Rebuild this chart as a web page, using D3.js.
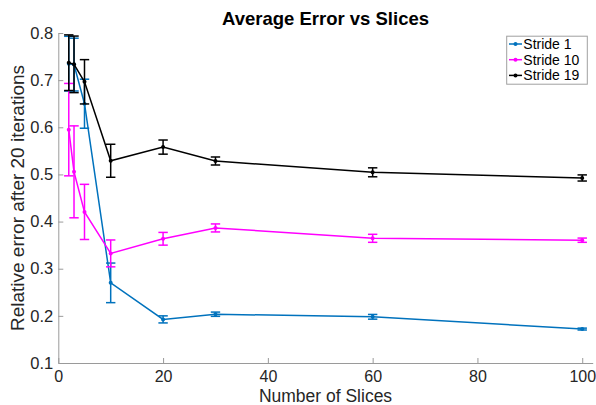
<!DOCTYPE html>
<html>
<head>
<meta charset="utf-8">
<script src="https://cdn.jsdelivr.net/npm/d3@7"></script>
<style>
html,body{margin:0;padding:0;background:#fff;}
svg{display:block;font-family:"Liberation Sans",Arial,Helvetica,sans-serif;}
</style>
</head>
<body>
<svg id="chart" width="596" height="405"></svg>
<script>
const slices = [2, 3, 5, 10, 20, 30, 60, 100];
const seriesNames = ["Stride 1", "Stride 10", "Stride 19"];
const seriesColors = ["#0072BD", "#FF00FF", "#000000"];
const stride1Mean = [0.735, 0.733, 0.650, 0.270, 0.1925, 0.2035, 0.198, 0.172];
const stride1Err  = [0.058, 0.056, 0.052, 0.042, 0.0075, 0.0045, 0.005, 0.002];
const stride10Mean = [0.595, 0.5055, 0.4205, 0.3325, 0.3635, 0.3865, 0.3645, 0.3605];
const stride10Err  = [0.098, 0.0975, 0.0585, 0.0285, 0.0135, 0.0085, 0.0085, 0.0045];
const stride19Mean = [0.737, 0.7335, 0.6965, 0.529, 0.558, 0.5285, 0.5045, 0.4925];
const stride19Err  = [0.059, 0.060, 0.047, 0.035, 0.015, 0.0085, 0.0095, 0.0065];
const xTicks = [0, 20, 40, 60, 80, 100];
const yTicks = [0.1, 0.2, 0.3, 0.4, 0.5, 0.6, 0.7, 0.8];
const titleText = "Average Error vs Slices";
const xLabel = "Number of Slices";
const yLabel = "Relative error after 20 iterations";

const means = [stride1Mean, stride10Mean, stride19Mean];
const errs = [stride1Err, stride10Err, stride19Err];

const svg = d3.select("#chart");
const W = 596, H = 405;
const m = {left: 58.3, right: W - 592.7, top: 33, bottom: H - 363};
const x = d3.scaleLinear().domain([0, 102]).range([m.left, W - m.right]);
const y = d3.scaleLinear().domain([0.1, 0.8]).range([H - m.bottom, m.top]);

const axisColor = "#9a9a9a";
const textColor = "#262626";

// X axis
const xAxis = svg.append("g").attr("transform", `translate(0,${y(0.1)})`)
  .call(d3.axisBottom(x).tickValues(xTicks).tickSizeInner(-5).tickSizeOuter(0).tickPadding(7.5).tickFormat(d3.format("d")));
xAxis.select(".domain").attr("stroke", axisColor);
xAxis.selectAll(".tick line").attr("stroke", axisColor);
xAxis.selectAll(".tick text").attr("fill", textColor).style("font-size", "16px");

// Y axis
const yAxis = svg.append("g").attr("transform", `translate(${x(0)},0)`)
  .call(d3.axisLeft(y).tickValues(yTicks).tickSizeInner(-5).tickSizeOuter(0).tickPadding(5).tickFormat(d3.format(".1f")));
yAxis.select(".domain").attr("stroke", axisColor);
yAxis.selectAll(".tick line").attr("stroke", axisColor);
yAxis.selectAll(".tick text").attr("fill", textColor).style("font-size", "16.5px");

// Series
const line = d3.line().x(d => x(d.x)).y(d => y(d.y));
const capW = 4.7;
seriesNames.forEach((name, i) => {
  const data = slices.map((s, j) => ({x: s, y: means[i][j], e: errs[i][j]}));
  const g = svg.append("g");
  const col = seriesColors[i];
  g.append("path").datum(data).attr("d", line).attr("fill", "none")
    .attr("stroke", col).attr("stroke-width", 1.5);
  const eb = g.selectAll(".eb").data(data).enter().append("g");
  eb.append("line").attr("x1", d => x(d.x)).attr("x2", d => x(d.x))
    .attr("y1", d => y(d.y + d.e)).attr("y2", d => y(d.y - d.e))
    .attr("stroke", col).attr("stroke-width", 1.5);
  eb.append("line").attr("x1", d => x(d.x) - capW).attr("x2", d => x(d.x) + capW)
    .attr("y1", d => y(d.y + d.e)).attr("y2", d => y(d.y + d.e))
    .attr("stroke", col).attr("stroke-width", 1.5);
  eb.append("line").attr("x1", d => x(d.x) - capW).attr("x2", d => x(d.x) + capW)
    .attr("y1", d => y(d.y - d.e)).attr("y2", d => y(d.y - d.e))
    .attr("stroke", col).attr("stroke-width", 1.5);
  eb.append("circle").attr("cx", d => x(d.x)).attr("cy", d => y(d.y)).attr("r", 2)
    .attr("fill", col);
});

// Title
svg.append("text").attr("x", (x(0) + x(102)) / 2).attr("y", 25)
  .attr("text-anchor", "middle").attr("font-weight", "bold")
  .style("font-size", "18.5px").attr("fill", "#000").text(titleText);

// X label
svg.append("text").attr("x", (x(0) + x(102)) / 2).attr("y", 401.5)
  .attr("text-anchor", "middle").style("font-size", "17.5px").attr("fill", textColor).text(xLabel);

// Y label
svg.append("text").attr("transform", `translate(24,${(y(0.1) + y(0.8)) / 2}) rotate(-90)`)
  .attr("text-anchor", "middle").style("font-size", "19px").attr("fill", textColor).text(yLabel);

// Legend
const lg = svg.append("g");
lg.append("rect").attr("x", 506.7).attr("y", 36.2).attr("width", 80.6).attr("height", 48)
  .attr("fill", "#fff").attr("stroke", "#a0a0a0").attr("stroke-width", 1);
const rowsY = [44, 59.7, 75.4];
seriesNames.forEach((name, i) => {
  lg.append("line").attr("x1", 509).attr("x2", 522).attr("y1", rowsY[i]).attr("y2", rowsY[i])
    .attr("stroke", seriesColors[i]).attr("stroke-width", 1.5);
  lg.append("circle").attr("cx", 515.5).attr("cy", rowsY[i]).attr("r", 2).attr("fill", seriesColors[i]);
  lg.append("text").attr("x", 523.3).attr("y", rowsY[i]).attr("dy", "0.36em")
    .style("font-size", "14px").attr("fill", "#000").text(name);
});
</script>
</body>
</html>
